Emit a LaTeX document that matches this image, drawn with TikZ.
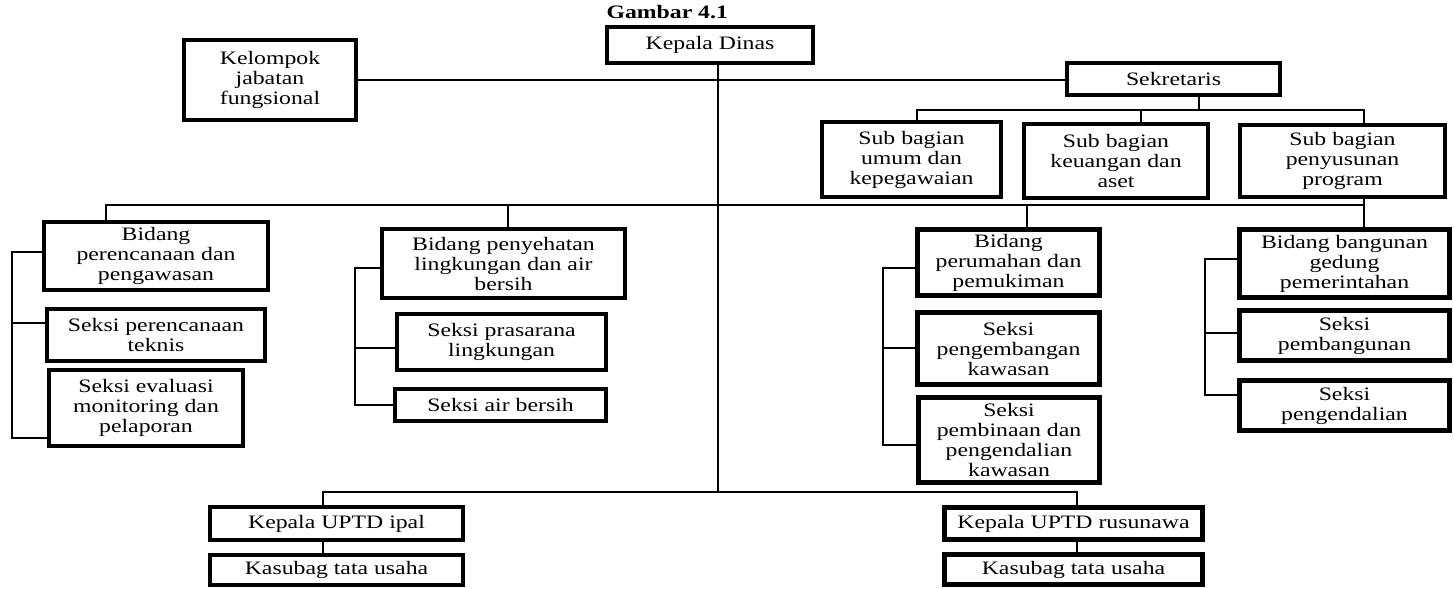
\documentclass[tikz,border=0pt]{standalone}
\usepackage{fontspec}
\setmainfont{Liberation Serif}[FakeStretch=1.25]
\usetikzlibrary{calc}
\tikzset{
  unit/.style={draw, line width=4pt, inner sep=0, align=center,
    font=\fontsize{19}{20}\selectfont},
  heavy/.style={unit, line width=5pt},
  link/.style={line width=2.5pt, line cap=rect}
}

\begin{document}
\begin{tikzpicture}[x=1pt,y=-1pt]
\useasboundingbox (0,0) rectangle (1454,589);

\node [anchor=base west, font=\fontsize{19}{20}\selectfont\bfseries] (title) at (603,19) {Gambar 4.1};
\node [unit, minimum width=206, minimum height=36] (kadis) at (710,45) {Kepala Dinas};
\node [unit, minimum width=172, minimum height=80] (kelompok) at (270,80) {Kelompok\\jabatan\\fungsional};
\node [unit, minimum width=213, minimum height=32] (sekretaris) at (1173.5,79) {Sekretaris};

%sub bagian
\node [unit, minimum width=179, minimum height=75] (subumum) at (911.5,159.5) {Sub bagian\\umum dan\\kepegawaian};
\node [unit, minimum width=184, minimum height=74] (subkeu) at (1116,161) {Sub bagian\\keuangan dan\\aset};
\node [unit, minimum width=205, minimum height=72] (subprog) at (1342.5,161) {Sub bagian\\penyusunan\\program};

%bidang
\node [unit, minimum width=224, minimum height=68] (bidrenc) at (156,256) {Bidang\\perencanaan dan\\pengawasan};
\node [unit, minimum width=218, minimum height=52] (sekteknis) at (156,335) {Seksi perencanaan\\teknis};
\node [unit, minimum width=194, minimum height=76] (sekeval) at (146,408) {Seksi evaluasi\\monitoring dan\\pelaporan};

\node [unit, minimum width=243, minimum height=69] (bidling) at (503.5,263.5) {Bidang penyehatan\\lingkungan dan air\\bersih};
\node [unit, minimum width=209, minimum height=56] (sekpras) at (501.5,342) {Seksi prasarana\\lingkungan};
\node [unit, minimum width=211, minimum height=32] (sekair) at (500.5,405) {Seksi air bersih};

\node [heavy, minimum width=182, minimum height=66] (bidrum) at (1008.5,262.5) {Bidang\\perumahan dan\\pemukiman};
\node [heavy, minimum width=182, minimum height=72] (sekkemb) at (1008.5,348.5) {Seksi\\pengembangan\\kawasan};
\node [heavy, minimum width=181, minimum height=85] (sekbina) at (1009,440) {Seksi\\pembinaan dan\\pengendalian\\kawasan};

\node [heavy, minimum width=210, minimum height=68] (bidgedung) at (1344.5,263.5) {Bidang bangunan\\gedung\\pemerintahan};
\node [heavy, minimum width=210, minimum height=50] (sekbangun) at (1344.5,335.5) {Seksi\\pembangunan};
\node [heavy, minimum width=210, minimum height=50] (sekkendali) at (1344.5,405.5) {Seksi\\pengendalian};

%uptd
\node [unit, minimum width=253, minimum height=33] (uptdipal) at (336.5,523.5) {Kepala UPTD ipal};
\node [unit, minimum width=253, minimum height=30] (kasubl) at (336.5,570) {Kasubag tata usaha};
\node [heavy, minimum width=258, minimum height=32] (uptdrusun) at (1073.5,523.5) {Kepala UPTD rusunawa};
\node [heavy, minimum width=258, minimum height=30] (kasubr) at (1073.5,569.5) {Kasubag tata usaha};

\coordinate (spine) at (718,492);
\coordinate (secbus) at (1199,110);
\coordinate (umumdrop) at (917,110);
\coordinate (keudrop) at (1141,110);
\coordinate (progdrop) at (1364,110);
\coordinate (rencdrop) at (106,205);
\coordinate (lingdrop) at (508,205);
\coordinate (rumdrop) at (1027,205);
\coordinate (gedungdrop) at (1364,205);
\coordinate (ipaldrop) at (323,492);
\coordinate (rusundrop) at (1077,492);

\draw[link] (kadis.south -| spine) -- (spine);
\draw[link] (kelompok.east) -- (kelompok.east -| sekretaris.west);

\draw[link] (sekretaris.south -| secbus) -- (secbus);
\draw[link] (subumum.north -| umumdrop) -- (umumdrop) -- (progdrop) -- (subprog.north -| progdrop);
\draw[link] (keudrop) -- (subkeu.north -| keudrop);

\draw[link] (rencdrop) -- (gedungdrop);
\draw[link] (rencdrop) -- (bidrenc.north -| rencdrop);
\draw[link] (lingdrop) -- (bidling.north -| lingdrop);
\draw[link] (rumdrop) -- (bidrum.north -| rumdrop);
\draw[link] (subprog.south -| gedungdrop) -- (bidgedung.north -| gedungdrop);

%brackets
\draw[link] (bidrenc.west |- 0,252) -| (12,438) -- (sekeval.west |- 0,438);
\draw[link] (12,323) -- (sekteknis.west |- 0,323);
\draw[link] (bidling.west |- 0,268) -| (355,405) -- (sekair.west |- 0,405);
\draw[link] (355,348) -- (sekpras.west |- 0,348);
\draw[link] (bidrum.west |- 0,268) -| (883,445) -- (sekbina.west |- 0,445);
\draw[link] (883,348) -- (sekkemb.west |- 0,348);
\draw[link] (bidgedung.west |- 0,259) -| (1205,395) -- (sekkendali.west |- 0,395);
\draw[link] (1205,333) -- (sekbangun.west |- 0,333);

\draw[link] (uptdipal.north -| ipaldrop) -- (ipaldrop) -- (rusundrop) -- (uptdrusun.north -| rusundrop);
\draw[link] (uptdipal.south -| ipaldrop) -- (kasubl.north -| ipaldrop);
\draw[link] (uptdrusun.south -| rusundrop) -- (kasubr.north -| rusundrop);

\end{tikzpicture}
\end{document}
